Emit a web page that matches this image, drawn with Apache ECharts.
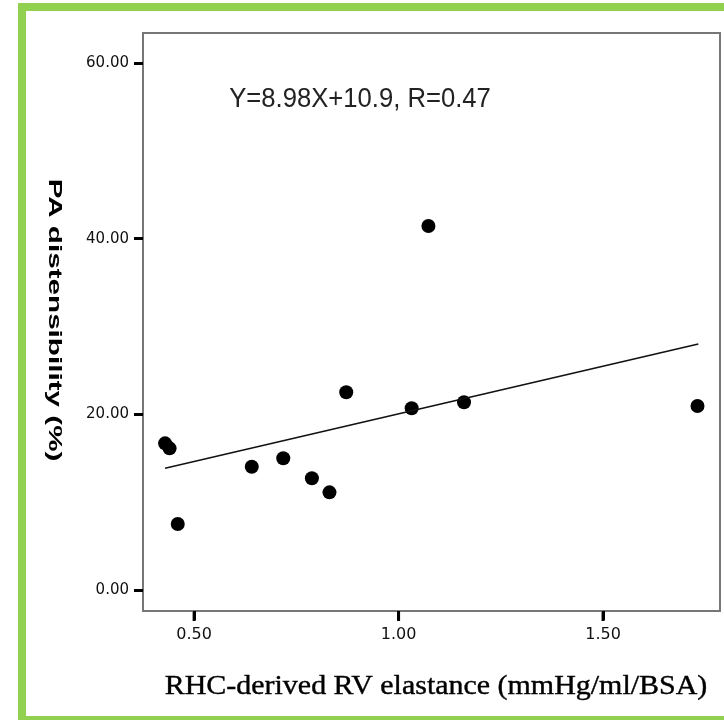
<!DOCTYPE html>
<html>
<head>
<meta charset="utf-8">
<script src="https://cdn.jsdelivr.net/npm/echarts@6/dist/echarts.min.js"></script>
<style>
html,body{margin:0;padding:0;background:#fff;}
#chart{width:724px;height:720px;}
</style>
</head>
<body>
<div id="chart"></div>
<script>
// Data
var elastance = [0.429, 0.440, 0.460, 0.641, 0.718, 0.788, 0.831, 0.872, 1.073, 1.032, 1.160, 1.731];
var distensibility = [16.70, 16.13, 7.51, 14.04, 15.00, 12.72, 11.12, 22.51, 41.44, 20.69, 21.37, 20.95];
var fitX = [0.429, 1.733];
var fitY = [13.86, 28.0];
var xTicks = [0.5, 1.0, 1.5];
var xTickLabels = ['0.50', '1.00', '1.50'];
var yTicks = [0, 20, 40, 60];
var yTickLabels = ['0.00', '20.00', '40.00', '60.00'];
var equationText = 'Y=8.98X+10.9, R=0.47';
var xTitle = 'RHC-derived RV elastance (mmHg/ml/BSA)';
var yTitle = 'PA distensibility (%)';

var chart = echarts.init(document.getElementById('chart'));

function mapLabel(ticks, labels) {
  return function (v) {
    for (var i = 0; i < ticks.length; i++) {
      if (Math.abs(ticks[i] - v) < 1e-6) return labels[i];
    }
    return '';
  };
}

var points = elastance.map(function (x, i) { return [x, distensibility[i]]; });
var fitLine = fitX.map(function (x, i) { return [x, fitY[i]]; });

var green = '#92d050';
var xMin = 0.375, xMax = 1.786, yMin = -2.39, yMax = 63.42;
var W = 724, H = 720;
var gridLeft = 143, gridRight = 4, gridTop = 33, gridBottom = 109;

// tick marks under the bottom frame, placed by the x-axis linear mapping
var tickMarks = xTicks.map(function (v, i) {
  var px = gridLeft + (v - xMin) / (xMax - xMin) * (W - gridLeft - gridRight);
  var py = H - gridBottom;
  return {
    id: 'xtick' + i, type: 'rect', silent: true, z: 200,
    shape: { x: px - 1.5, y: py + 1, width: 3, height: 9 },
    style: { fill: '#000' }
  };
});

chart.setOption({
  animation: false,
  backgroundColor: '#fff',
  grid: {
    left: gridLeft, right: gridRight, top: gridTop, bottom: gridBottom,
    show: true, borderColor: '#777', borderWidth: 2, backgroundColor: 'transparent'
  },
  xAxis: {
    type: 'value', min: xMin, max: xMax, position: 'bottom',
    axisLine: { show: true, onZero: false, lineStyle: { color: '#777', width: 2 } },
    axisTick: { show: true, customValues: xTicks, length: 9, lineStyle: { color: '#000', width: 3 } },
    axisLabel: { customValues: xTicks, formatter: mapLabel(xTicks, xTickLabels), margin: 16,
      color: '#111', fontSize: 16, fontFamily: 'DejaVu Sans' },
    splitLine: { show: false }
  },
  yAxis: {
    type: 'value', min: yMin, max: yMax,
    axisLine: { show: true, onZero: false, lineStyle: { color: '#777', width: 2 } },
    axisTick: { show: true, customValues: yTicks, length: 9, lineStyle: { color: '#000', width: 3 } },
    axisLabel: { customValues: yTicks, formatter: mapLabel(yTicks, yTickLabels), margin: 14,
      color: '#111', fontSize: 15, fontFamily: 'DejaVu Sans' },
    splitLine: { show: false }
  },
  series: [
    {
      type: 'line', data: fitLine, symbol: 'none', silent: true,
      lineStyle: { color: '#111', width: 1.6 }
    },
    {
      type: 'scatter', data: points, symbol: 'circle', symbolSize: 14,
      itemStyle: { color: '#000', opacity: 1 }
    }
  ],
  graphic: [
    { id: 'gL', type: 'rect', shape: { x: 18, y: 3, width: 8, height: 717 }, style: { fill: green }, silent: true },
    { id: 'gT', type: 'rect', shape: { x: 18, y: 3, width: 706, height: 8 }, style: { fill: green }, silent: true },
    { id: 'gB', type: 'rect', shape: { x: 18, y: 716, width: 706, height: 4 }, style: { fill: green }, silent: true },
    {
      id: 'eq', type: 'text', x: 360, y: 100, scaleX: 0.95,
      style: { text: equationText, font: '27px "Liberation Sans"', fill: '#222',
        textAlign: 'center', textVerticalAlign: 'middle' }
    },
    {
      id: 'xt', type: 'text', x: 436, y: 687, scaleX: 1.07,
      style: { text: xTitle, font: '28px "Liberation Serif"', fill: '#000',
        stroke: '#000', lineWidth: 0.4,
        textAlign: 'center', textVerticalAlign: 'middle' }
    },
    {
      id: 'yt', type: 'text', x: 54, y: 320, rotation: -Math.PI / 2, scaleX: 1.56,
      style: { text: yTitle, font: 'bold 19px "Liberation Sans"', fill: '#000',
        textAlign: 'center', textVerticalAlign: 'middle' }
    }
  ].concat(tickMarks)
});
</script>
</body>
</html>
